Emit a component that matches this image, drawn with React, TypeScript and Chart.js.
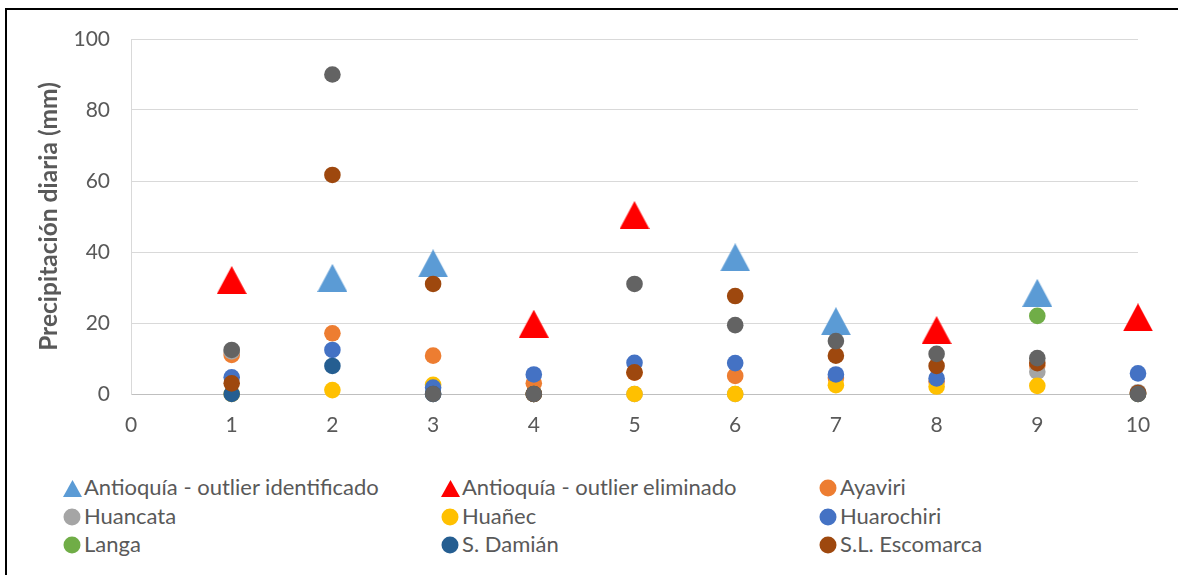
import React, { useEffect, useRef } from "react";
import { Chart, registerables } from "chart.js";

Chart.register(...registerables);

// Día del evento (eje X)
const dias = [1, 2, 3, 4, 5, 6, 7, 8, 9, 10];

// Precipitación diaria (mm) por estación
const antioquiaIdentificado = [null, 32.7, 36.8, null, null, 38.5, 20.5, null, 28.5, null];
const antioquiaEliminado = [32.1, null, null, 19.8, 50.4, null, null, 18.0, null, 21.6];
const ayaviri = [11.0, 17.1, 10.8, 3.0, 6.0, 5.1, 4.5, 3.5, 8.0, 0.3];
const huancata = [12.0, null, 0, 0, 0, 0, null, null, 6.3, 0.5];
const huanec = [0, 1.1, 2.6, 0, 0, 0, 2.5, 2.1, 2.3, 0];
const huarochiri = [4.7, 12.4, 1.8, 5.5, 8.8, 8.7, 5.5, 4.4, null, 5.8];
const langa = [null, null, null, null, null, null, null, null, 22.0, null];
const sDamian = [0, 7.9, 0, 0, null, null, null, null, null, 0];
const slEscomarca = [3.0, 61.7, 31.0, 0, 6.1, 27.6, 10.8, 7.9, 8.7, 0.3];
const otraEstacion = [12.4, 90.0, 0, 0, 31.0, 19.4, 14.9, 11.3, 10.1, 0];

// Ticks
const yTicks = [0, 20, 40, 60, 80, 100];
const xTicks = [0, 1, 2, 3, 4, 5, 6, 7, 8, 9, 10];

const FONT = "Lato, 'Open Sans', sans-serif";
const TEXT = "#595959";

type Serie = {
  nombre: string;
  valores: (number | null)[];
  color: string;
  forma: "triangulo" | "circulo";
  enLeyenda: boolean;
};

const series: Serie[] = [
  { nombre: "Antioquía - outlier identificado", valores: antioquiaIdentificado, color: "#5B9BD5", forma: "triangulo", enLeyenda: true },
  { nombre: "Antioquía - outlier eliminado", valores: antioquiaEliminado, color: "#FF0000", forma: "triangulo", enLeyenda: true },
  { nombre: "Ayaviri", valores: ayaviri, color: "#ED7D31", forma: "circulo", enLeyenda: true },
  { nombre: "Huancata", valores: huancata, color: "#A5A5A5", forma: "circulo", enLeyenda: true },
  { nombre: "Huañec", valores: huanec, color: "#FFC000", forma: "circulo", enLeyenda: true },
  { nombre: "Huarochiri", valores: huarochiri, color: "#4472C4", forma: "circulo", enLeyenda: true },
  { nombre: "Langa", valores: langa, color: "#70AD47", forma: "circulo", enLeyenda: true },
  { nombre: "S. Damián", valores: sDamian, color: "#255E91", forma: "circulo", enLeyenda: true },
  { nombre: "S.L. Escomarca", valores: slEscomarca, color: "#9E480E", forma: "circulo", enLeyenda: true },
  { nombre: "Otra estación", valores: otraEstacion, color: "#636363", forma: "circulo", enLeyenda: false },
];

function trianguloCanvas(color: string, w: number, h: number): HTMLCanvasElement {
  const c = document.createElement("canvas");
  c.width = w;
  c.height = h;
  const ctx = c.getContext("2d")!;
  ctx.fillStyle = color;
  ctx.beginPath();
  ctx.moveTo(w / 2, 0);
  ctx.lineTo(w, h);
  ctx.lineTo(0, h);
  ctx.closePath();
  ctx.fill();
  return c;
}

function Marcador({ serie }: { serie: Serie }) {
  if (serie.forma === "triangulo") {
    return (
      <svg width={19} height={17} style={{ display: "block" }}>
        <polygon points="9.5,0 19,17 0,17" fill={serie.color} />
      </svg>
    );
  }
  return (
    <svg width={18} height={18} style={{ display: "block" }}>
      <circle cx={9} cy={9} r={8.5} fill={serie.color} />
    </svg>
  );
}

export default function App() {
  const canvasRef = useRef<HTMLCanvasElement | null>(null);

  useEffect(() => {
    if (!canvasRef.current) return;
    const datasets = series.map((s, i) => ({
      label: s.nombre,
      data: dias
        .map((d, j) => ({ x: d, y: s.valores[j] }))
        .filter((p) => p.y !== null) as { x: number; y: number }[],
      backgroundColor: s.color,
      borderColor: s.color,
      borderWidth: 0,
      pointStyle: s.forma === "triangulo" ? trianguloCanvas(s.color, 30, 28) : "circle",
      pointRadius: 8.3,
      order: series.length - i,
      clip: false as const,
    }));

    const chart = new Chart(canvasRef.current, {
      type: "scatter",
      data: { datasets },
      options: {
        animation: false,
        responsive: false,
        devicePixelRatio: 1,
        layout: { padding: { left: 0, top: 39, right: 40, bottom: 0 } },
        plugins: { legend: { display: false }, tooltip: { enabled: false } },
        scales: {
          x: {
            type: "linear",
            min: 0,
            max: 10,
            afterFit: (scale: any) => {
              scale.height = 56;
            },
            afterBuildTicks: (scale: any) => {
              scale.ticks = xTicks.map((v) => ({ value: v }));
            },
            grid: { drawOnChartArea: false, drawTicks: false },
            border: { display: true, color: "#BFBFBF", width: 1 },
            ticks: {
              padding: 19,
              color: TEXT,
              font: { family: FONT, size: 21 },
            },
          },
          y: {
            type: "linear",
            min: 0,
            max: 100,
            afterFit: (scale: any) => {
              scale.width = 131;
            },
            afterBuildTicks: (scale: any) => {
              scale.ticks = yTicks.map((v) => ({ value: v }));
            },
            grid: {
              color: (ctx: any) => (ctx.tick && ctx.tick.value === 0 ? "#BFBFBF" : "#D9D9D9"),
              lineWidth: 1,
              drawTicks: false,
            },
            border: { display: true, color: "#D9D9D9", width: 1 },
            ticks: {
              padding: 21,
              color: TEXT,
              font: { family: FONT, size: 21 },
            },
            title: {
              display: true,
              text: "Precipitación diaria (mm)",
              color: TEXT,
              font: { family: FONT, size: 24.5, weight: "bold" },
              padding: { top: 34, bottom: 0 },
            },
          },
        },
      },
    });
    return () => chart.destroy();
  }, []);

  const leyenda = series.filter((s) => s.enLeyenda);
  const colX = [84, 462, 840];
  const filaTop = [474.2, 503.2, 531.2];

  return (
    <div
      style={{
        position: "absolute",
        left: 0,
        top: 0,
        width: 1178,
        height: 575,
        overflow: "hidden",
        background: "#ffffff",
        fontFamily: FONT,
      }}
    >
      <div
        style={{
          position: "absolute",
          left: 5,
          top: 8,
          width: 1250,
          height: 650,
          border: "2px solid #000000",
          boxSizing: "border-box",
        }}
      />
      <canvas
        ref={canvasRef}
        width={1178}
        height={450}
        style={{ position: "absolute", left: 0, top: 0, width: 1178, height: 450 }}
      />
      {leyenda.map((s, i) => {
        const col = i % 3;
        const fila = Math.floor(i / 3);
        const x = colX[col];
        const top = filaTop[fila];
        const capMid = top + 13.8;
        const mw = s.forma === "triangulo" ? 19 : 18;
        const mh = s.forma === "triangulo" ? 17 : 18;
        return (
          <React.Fragment key={s.nombre}>
            <div
              style={{
                position: "absolute",
                left: x - 12 - mw / 2,
                top: capMid - mh / 2,
                width: mw,
                height: mh,
              }}
            >
              <Marcador serie={s} />
            </div>
            <div
              style={{
                position: "absolute",
                left: x,
                top,
                fontSize: 22,
                lineHeight: "26.4px",
                color: TEXT,
                whiteSpace: "nowrap",
              }}
            >
              {s.nombre}
            </div>
          </React.Fragment>
        );
      })}
    </div>
  );
}
